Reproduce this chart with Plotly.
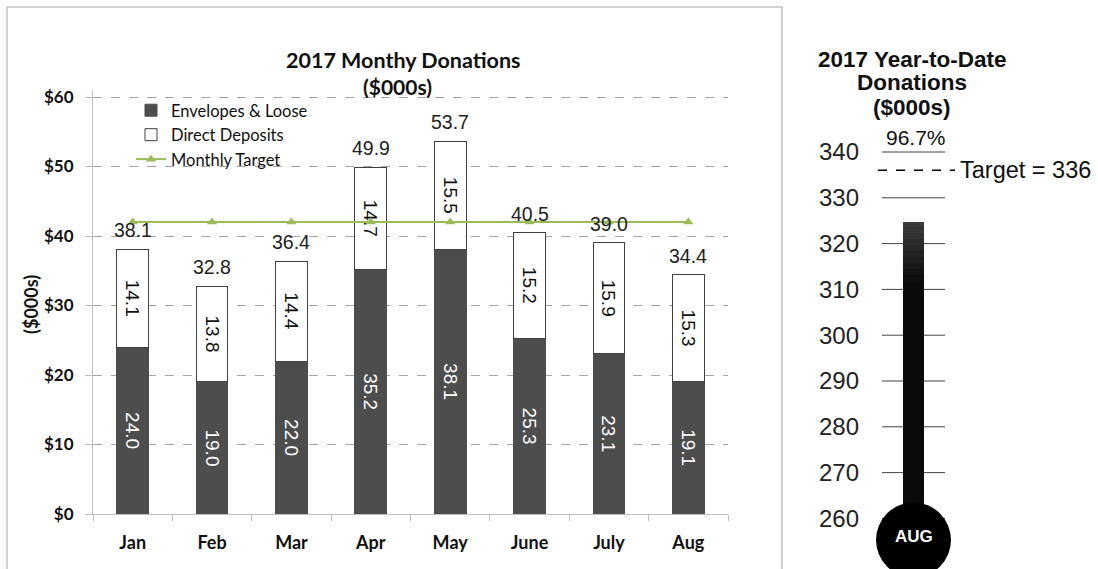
import plotly.graph_objects as go

W, H = 1098, 569

months = ["Jan", "Feb", "Mar", "Apr", "May", "June", "July", "Aug"]
envelopes = [24.0, 19.0, 22.0, 35.2, 38.1, 25.3, 23.1, 19.1]
direct = [14.1, 13.8, 14.4, 14.7, 15.5, 15.2, 15.9, 15.3]
totals = [38.1, 32.8, 36.4, 49.9, 53.7, 40.5, 39.0, 34.4]
monthly_target = [42, 42, 42, 42, 42, 42, 42, 42]

ytd_value = 324.8
ytd_target = 336
ytd_month = "AUG"
thermo_ticks = [260, 270, 280, 290, 300, 310, 320, 330, 340]

CAL = "Lato"
ARIAL = "Liberation Sans, Arial"
DARK = "#4d4d4d"
GREEN = "#9bbb59"

def px_x(p):
    return p / W

def px_y(p):
    return 1 - p / H

fig = go.Figure()

fig.add_trace(go.Bar(
    x=months, y=envelopes, name="Envelopes & Loose",
    marker=dict(color=DARK, line=dict(color=DARK, width=1)),
    text=[f"{v:.1f}" for v in envelopes], textposition="inside",
    insidetextanchor="middle", textangle=90, constraintext="none",
    insidetextfont=dict(color="white", size=19, family=ARIAL),
    xaxis="x", yaxis="y",
))
fig.add_trace(go.Bar(
    x=months, y=direct, name="Direct Deposits",
    marker=dict(color="white", line=dict(color="#404040", width=1)),
    text=[f"{v:.1f}" for v in direct], textposition="inside",
    insidetextanchor="middle", textangle=90, constraintext="none",
    insidetextfont=dict(color="#111", size=19, family=ARIAL),
    xaxis="x", yaxis="y",
))
fig.add_trace(go.Scatter(
    x=months, y=monthly_target, name="Monthly Target", mode="lines+markers",
    line=dict(color=GREEN, width=2),
    marker=dict(symbol="triangle-up", size=9, color=GREEN),
    xaxis="x", yaxis="y",
))

# totals above bars
annotations = []
for m, t in zip(months, totals):
    annotations.append(dict(x=m, y=t, xref="x", yref="y", text=f"{t:.1f}",
                            showarrow=False, yshift=19, yanchor="middle", xanchor="center",
                            font=dict(size=19.5, family=ARIAL, color="#222")))

# thermometer tube
thermo_lo = 340 - (H - 152) * 10 / 45.8
thermo_hi = 340 + 152 * 10 / 45.8
tube_x = 53.5
fig.add_trace(go.Bar(
    x=[tube_x], y=[ytd_value - 250], base=[250], width=[21],
    marker=dict(color="#0a0a0a", line=dict(width=0)),
    showlegend=False, xaxis="x2", yaxis="y2", hoverinfo="skip",
))

shapes = []
# outer border of left chart
shapes.append(dict(type="rect", xref="paper", yref="paper",
                   x0=px_x(7), x1=px_x(782), y0=-0.05, y1=px_y(7),
                   line=dict(color="#a6a6a6", width=1), layer="below"))
# thermometer tick lines
for t in thermo_ticks:
    shapes.append(dict(type="line", xref="x2", yref="y2", x0=22, x1=85, y0=t, y1=t,
                       line=dict(color="#444", width=1), layer="below"))
# tube gradient highlight near top
for i in range(10):
    shapes.append(dict(type="rect", xref="x2", yref="y2",
                       x0=tube_x - 10.5, x1=tube_x + 10.5,
                       y0=ytd_value - (i + 1) * 1.3, y1=ytd_value - i * 1.3,
                       fillcolor=f"rgba(255,255,255,{0.2 * (1 - i / 10):.3f})",
                       line=dict(width=0), layer="above"))
# bulb
shapes.append(dict(type="circle", xref="x2", yref="y2", xsizemode="pixel", ysizemode="pixel",
                   xanchor=tube_x, yanchor=340 - (540 - 152) * 10 / 45.8,
                   x0=-37.5, x1=37.5, y0=-37.5, y1=37.5,
                   fillcolor="black", line=dict(color="black", width=0), layer="above"))
# target dashed line
shapes.append(dict(type="line", xref="x2", yref="y2", x0=18, x1=95, y0=ytd_target, y1=ytd_target,
                   line=dict(color="black", width=1.5, dash="dash"), layer="above"))

def paper_text(x, y, text, size, family, angle=0):
    return dict(x=px_x(x), y=px_y(y), xref="paper", yref="paper", text=text,
                xanchor="center", yanchor="middle", textangle=angle,
                showarrow=False, font=dict(size=size, family=family, color="#111"))

annotations += [
    paper_text(403, 60, "<b>2017 Monthy Donations</b>", 21.5, CAL),
    paper_text(397, 86, "<b>($000s)</b>", 21, CAL),
    paper_text(31, 305, "<b>($000s)</b>", 18, CAL, angle=-90),
    paper_text(912, 59, "<b>2017 Year-to-Date</b>", 22.5, ARIAL),
    paper_text(912, 83, "<b>Donations</b>", 22.5, ARIAL),
    paper_text(912, 108, "<b>($000s)</b>", 22.5, ARIAL),
    dict(x=tube_x + 2.5, y=340, xref="x2", yref="y2", yshift=15,
         xanchor="center", yanchor="middle",
         text=f"{ytd_value / ytd_target * 100:.1f}%",
         showarrow=False, font=dict(size=21, family=ARIAL, color="#111")),
    dict(x=98, y=ytd_target, xref="x2", yref="y2", xanchor="left", yanchor="middle",
         text=f"Target = {ytd_target}",
         showarrow=False, font=dict(size=23.5, family=ARIAL, color="#111")),
    dict(x=tube_x, y=340 - (536 - 152) * 10 / 45.8, xref="x2", yref="y2",
         xanchor="center", yanchor="middle",
         text=f"<b>{ytd_month}</b>",
         showarrow=False, font=dict(size=17, family=ARIAL, color="white")),
]

ytop = 61.0
fig.update_layout(
    width=W, height=H, autosize=False,
    margin=dict(l=0, r=0, t=0, b=0, pad=0, autoexpand=False),
    paper_bgcolor="white", plot_bgcolor="rgba(0,0,0,0)",
    barmode="stack", bargap=0.6,
    showlegend=True,
    legend=dict(x=px_x(131), y=px_y(93), xanchor="left", yanchor="top",
                traceorder="normal", bgcolor="rgba(0,0,0,0)",
                font=dict(size=16.5, family=CAL, color="#111"),
                tracegroupgap=0, itemwidth=30),
    xaxis=dict(domain=[px_x(93), px_x(728)], type="category", automargin=False,
               showline=True, linecolor="#bfbfbf", linewidth=1,
               ticks="outside", tickson="boundaries", ticklen=6, tickcolor="#bfbfbf",
               ticklabelstandoff=12,
               showgrid=False, tickfont=dict(size=18, family=CAL, color="#111", weight="bold"),
               anchor="y"),
    yaxis=dict(domain=[px_y(514), px_y(514 - ytop * 6.95)], range=[0, ytop], dtick=10,
               tickprefix="$", automargin=False,
               showline=True, linecolor="#bfbfbf", linewidth=1,
               ticks="outside", ticklen=7, tickcolor="#bfbfbf", ticklabelstandoff=8,
               showgrid=True, gridcolor="#a6a6a6", griddash="dash", gridwidth=1,
               zeroline=False, tickfont=dict(size=17, family=CAL, color="#111", weight="bold"),
               anchor="x"),
    xaxis2=dict(domain=[px_x(860), 1.0], range=[0, W - 860], visible=False, anchor="y2",
                automargin=False),
    yaxis2=dict(domain=[0, 1], range=[thermo_lo, thermo_hi], tickvals=thermo_ticks,
                automargin=False,
                showgrid=False, zeroline=False, showline=False, ticks="",
                tickfont=dict(size=24, family=ARIAL, color="#222"), anchor="x2"),
    shapes=shapes,
    annotations=annotations,
)

fig.write_html("out.html", config={"displayModeBar": False},
               post_script="document.body.style.margin='0';")
